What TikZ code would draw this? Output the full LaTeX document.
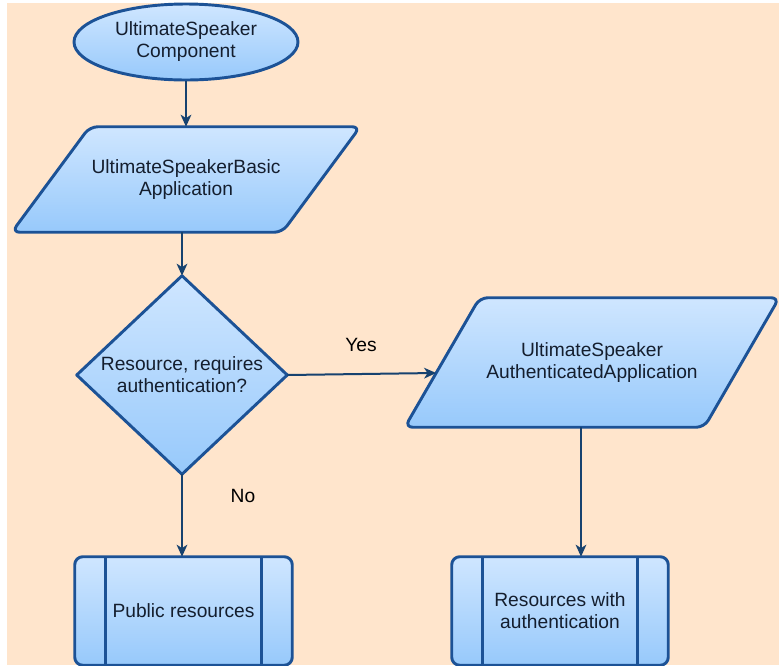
\documentclass[tikz,border=0pt]{standalone}
\usepackage{fontspec}
\setmainfont{Liberation Sans}
\usetikzlibrary{shapes.geometric,arrows.meta,calc}
\definecolor{bgpeach}{HTML}{FFE5CC}
\definecolor{edgeblue}{HTML}{1C5296}
\definecolor{linkblue}{HTML}{17426F}
\definecolor{filltop}{HTML}{CFE6FF}
\definecolor{fillbot}{HTML}{97C9FB}
\definecolor{ink}{HTML}{141E2E}
\pgfdeclarelayer{canvas}
\pgfdeclarelayer{shapes}
\pgfsetlayers{canvas,shapes,main}

\begin{document}
\begin{tikzpicture}[x=0.75pt,y=-0.75pt,
  shapefill/.style={top color=filltop,bottom color=fillbot},
  outline/.style={draw=edgeblue,line width=2.2pt,line join=round},
  txt/.style={font=\fontsize{14.4}{16.5}\selectfont,text=ink,align=center},
  holder/.style={txt,draw=none,inner sep=0pt,shape=rectangle},
  link/.style={draw=linkblue,line width=1.5pt,-{Stealth[length=9pt,width=8pt,inset=2.5pt]}},
  tag/.style={font=\fontsize{14.4}{16.5}\selectfont,text=black}]

\useasboundingbox (0,0) rectangle (779,665);
\clip (0,0) rectangle (779,665);

% page background
\begin{pgfonlayer}{canvas}
  \fill[white] (0,0) rectangle (779,665);
  \fill[bgpeach] (7,3) rectangle (779,665);
\end{pgfonlayer}

% start: component (terminator)
\node[ellipse, outline, shapefill, txt, minimum width=168pt, minimum height=57pt, inner sep=0pt]
  (comp) at (186,42) {UltimateSpeaker\\Component};

% basic application (data parallelogram)
\node[holder, minimum width=261pt, minimum height=78.75pt] (basic) at (186,179.5)
  {UltimateSpeakerBasic\\Application};

% decision
\node[holder, minimum width=157.5pt, minimum height=148.5pt] (query) at (182,375)
  {Resource, requires\\authentication?};

% authenticated application (data parallelogram)
\node[holder, minimum width=280.5pt, minimum height=96.75pt] (secure) at (592,362.5)
  {UltimateSpeaker\\AuthenticatedApplication};

% predefined processes
\node[holder, minimum width=162.75pt, minimum height=81pt] (public) at (183.5,611)
  {Public resources};
\node[holder, minimum width=162pt, minimum height=81pt] (private) at (560,611)
  {Resources with\\authentication};

% outlines and fills drawn beneath the texts
\begin{pgfonlayer}{shapes}
  \path[outline, shapefill, rounded corners=6pt]
    ($(basic.north west)+(78,0)$) -- (basic.north east)
    -- ($(basic.south east)-(78,0)$) -- (basic.south west) -- cycle;
  \path[outline, shapefill]
    (query.north) -- (query.east) -- (query.south) -- (query.west) -- cycle;
  \path[outline, shapefill, rounded corners=6pt]
    ($(secure.north west)+(75,0)$) -- (secure.north east)
    -- ($(secure.south east)-(75,0)$) -- (secure.south west) -- cycle;
  \foreach \b in {public,private}{
    \path[outline, shapefill, rounded corners=6pt]
      (\b.south west) rectangle (\b.north east);
    \draw[edgeblue, line width=2.2pt]
      ($(\b.north west)+(31,0)$) -- ($(\b.south west)+(31,0)$)
      ($(\b.north east)-(31,0)$) -- ($(\b.south east)-(31,0)$);
  }
\end{pgfonlayer}

% connector end points on the slanted / offset edges
\coordinate (secureIn) at ($(secure.south west)!0.419!($(secure.north west)+(75,0)$)$);
\coordinate (secureOut) at ($(secure.south)+(-11,0)$);

% connectors
\draw[link] (comp.south) -- (comp.south |- basic.north);
\draw[link] (basic.south -| query.north) -- (query.north);
\draw[link] (query.east) -- (secureIn);
\draw[link] (query.south) -- (query.south |- public.north);
\draw[link] (secureOut) -- (secureOut |- private.north);

% branch labels
\node[tag] (yes) at (361,345) {Yes};
\node[tag] (no) at (243,496) {No};
\end{tikzpicture}
\end{document}
